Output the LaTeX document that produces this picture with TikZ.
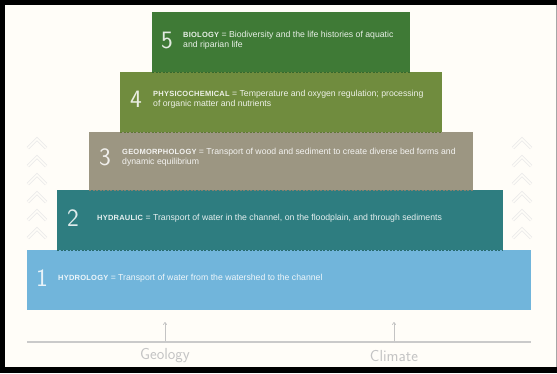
\documentclass[tikz,border=0pt]{standalone}
\usepackage{fontspec}
\setmainfont{Liberation Sans}
\newfontfamily\narrowfont{Liberation Sans}
\newfontfamily\capsfont[LetterSpace=3]{Liberation Sans}
\usepackage{xcolor}
\usetikzlibrary{arrows.meta}

\definecolor{paper}{HTML}{FFFDF8}
\definecolor{hydrocol}{HTML}{71B5DB}
\definecolor{hydraulcol}{HTML}{2E7D80}
\definecolor{geocol}{HTML}{9C9682}
\definecolor{physcol}{HTML}{708C3E}
\definecolor{biocol}{HTML}{3F7A36}
\definecolor{groundcol}{HTML}{C4C4C4}

\newcommand{\tiertag}[1]{{\capsfont\bfseries\fontsize{7.5}{9}\selectfont #1}}

\begin{document}
\begin{tikzpicture}[x=1pt, y=-1pt,
        tier/.style={rectangle, inner sep=0pt, outer sep=0pt, anchor=north west, minimum height=60pt},
        tiernum/.style={inner sep=0pt, text=white, text opacity=0.85, font=\sffamily\fontsize{25}{25}\selectfont},
        tiertext/.style={anchor=west, inner sep=0pt, align=left, text=white, text opacity=0.88, font=\narrowfont\fontsize{8.7}{9.5}\selectfont},
        seam/.style={dashed, dash pattern=on 2pt off 1.5pt, line width=0.8pt},
        chevron/.style={draw=black!9, double=paper, double distance=1.6pt, line width=0.7pt, line join=miter},
        flow/.style={-{To[length=3pt, width=4pt]}, line width=0.7pt, groundcol},
        groundline/.style={line width=1.2pt, groundcol!90},
        ground/.style={inner sep=0pt, text=groundcol, font=\sffamily\fontsize{16}{16}\selectfont}
    ]
        % frame
        \fill[black] (0,0) rectangle (557,373);
        \fill[paper] (5,5) rectangle (556,367);
        \draw[black!35, line width=1pt] (556.5,5) -- (556.5,367);
        \useasboundingbox (0,0) rectangle (557,373);

        % chevrons on both sides
        \foreach \y in {143,161,...,233} {
            \draw[chevron] (28,\y+5) -- (37,\y-4) -- (46,\y+5);
            \draw[chevron] (513,\y+5) -- (522,\y-4) -- (531,\y+5);
        }

        % pyramid tiers
        \node[tier, fill=biocol, minimum width=258pt] (bio) at (152,12) {};
        \node[tier, fill=physcol, minimum width=322pt] (phys) at (120,72) {};
        \node[tier, fill=geocol, minimum width=384pt, minimum height=58pt] (geo) at (89,132) {};
        \node[tier, fill=hydraulcol, minimum width=446pt] (hydraul) at (57,190) {};
        \node[tier, fill=hydrocol, minimum width=504pt] (hydro) at (27,250) {};

        \draw[seam, biocol!85!black] (bio.south west) -- (bio.south east);
        \draw[seam, physcol!85!black] (phys.south west) -- (phys.south east);
        \draw[seam, geocol!85!black] (geo.south west) -- (geo.south east);
        \draw[seam, hydraulcol!85!black] (hydraul.south west) -- (hydraul.south east);

        \node[tiernum] (bioNum) at (167,40) {5};
        \node[tiertext] (bioText) at (183,40) {\tiertag{BIOLOGY} = Biodiversity and the life histories of aquatic\\and riparian life};
        \node[tiernum] (physNum) at (136,99) {4};
        \node[tiertext] (physText) at (153,99) {\tiertag{PHYSICOCHEMICAL} = Temperature and oxygen regulation; processing\\of organic matter and nutrients};
        \node[tiernum] (geoNum) at (105,157) {3};
        \node[tiertext] (geoText) at (122,157) {\tiertag{GEOMORPHOLOGY} = Transport of wood and sediment to create diverse bed forms and\\dynamic equilibrium};
        \node[tiernum] (hydraulNum) at (73,218) {2};
        \node[tiertext] (hydraulText) at (97,218) {\tiertag{HYDRAULIC} = Transport of water in the channel, on the floodplain, and through sediments};
        \node[tiernum] (hydroNum) at (42,278) {1};
        \node[tiertext] (hydroText) at (58,278) {\tiertag{HYDROLOGY} = Transport of water from the watershed to the channel};

        % drivers below
        \coordinate (lineL) at (27,342);
        \coordinate (lineR) at (531,342);
        \draw[groundline] (lineL) -- (lineR);
        \coordinate (geoFoot) at (165,341);
        \coordinate (geoTip) at (165,322);
        \coordinate (climFoot) at (394,341);
        \coordinate (climTip) at (394,322);
        \draw[flow] (geoFoot) -- (geoTip);
        \draw[flow] (climFoot) -- (climTip);
        \node[ground] (geology) at (165,356) {Geology};
        \node[ground] (climate) at (394,356) {Climate};
    \end{tikzpicture}
\end{document}
